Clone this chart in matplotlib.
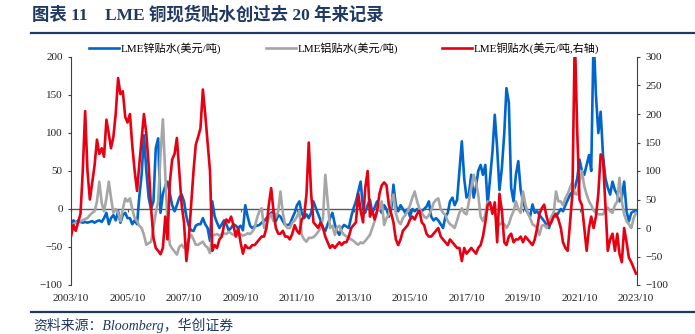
import matplotlib
matplotlib.use("Agg")
import matplotlib.pyplot as plt
from matplotlib.lines import Line2D
import pandas as pd

# ---------------- data (monthly, 2003/10 .. 2023/10) ----------------
start_month = "2003-10-01"

zinc = [
    -20, -15, -18, -15, -17, -18, -17, -18, -17, -16,
    -18, -16, -15, -17, -12, -5, -20, -12, -8, -15,
    -3, -18, -8, -5, -12, -12, -20, -15, -20, 15,
    45, 97, 50, 15, 0, 10, 80, 93, -5, 20,
    30, 36, 20, 5, -3, 5, 15, 19, 10, -10,
    -22, -28, -29, -22, -20, -20, -12, -20, -25, -42,
    10, -10, -18, -25, -20, -15, -20, -28, -25, -20,
    -22, -25, -22, -28, 5, -10, -22, -25, -23, -22,
    -21, -18, -16, -12, -9, -5, -3, -16, -8, -10,
    -16, -21, -21, -20, -12, -5, 5, 10, -5, -12,
    -7, -12, -5, 10, 1, -7, -15, -25, -29, -20,
    -12, -5, -20, -29, -34, -25, -21, -23, -25, -10,
    1, 10, 23, 36, 0, -5, 5, 12, -5, 2,
    10, 0, -5, 5, 0, -10, 0, 32, 5, -3,
    5, 0, -5, 0, -10, 0, -3, 0, -5, -3,
    0, 3, 10, -10, -15, -12, -15, -20, -25, -10,
    -5, 10, 15, 5, 12, 50, 89, 40, 15, 20,
    45, 15, 30, 50, 58, 45, 58, 5, 40, 75,
    124, 80, 25, 54, 100, 159, 140, 28, 10, 45,
    63, 25, 10, 0, -5, -10, 6, -5, -3, -8,
    -12, -16, -21, -25, -15, -5, -10, -5, 0, -3,
    5, 12, 19, 23, 28, 40, 65, 50, 45, 58,
    71, 50, 230, 150, 100, 128, 70, 40, 28, 19,
    36, 25, 19, 10, 15, 36, -3, -16, -5, -3, -3,
]

aluminium = [
    -25, -20, -18, -17, -16, -15, -13, -12, -8, -5,
    -3, 10, 36, 8, -3, 14, 36, 15, -5, 0,
    -5, -16, 0, 14, 10, 14, 0, -12, -16, -22,
    -25, -34, -47, -45, -43, -25, -5, 10, 71, 118,
    45, -16, -47, -52, -56, -60, -50, -47, -51, -47,
    -40, -34, -40, -47, -47, -45, -43, -48, -51, -58,
    -35, -34, -33, -35, -33, -32, -33, -30, -32, -34,
    -35, -34, -33, -35, -34, -32, -33, -30, -25, -12,
    -3, 1, -25, -21, -12, -7, -16, -10, -3, 23,
    -5, -21, -25, -25, -18, -15, -10, -3, -34, -40,
    -43, -38, -38, -37, -34, -30, -25, -12, 45, 10,
    -25, -22, -34, -25, -22, -30, -34, -36, -38, -40,
    -42, -45, -47, -44, -45, -42, -38, -34, -25, -16,
    -3, 0, 10, -21, -12, -7, 10, 19, -5, -16,
    -20, -12, -8, -3, 5, 15, 23, 10, 0, -5,
    -10, -12, -8, -2, 8, 12, 14, 0, -5, -8,
    -16, -20, -22, -25, -15, -5, 1, -5, -7, 10,
    28, 45, 35, 19, -10, -16, -7, 10, 5, 0,
    -3, -16, -21, -18, -20, -25, -20, -10, -3, 10,
    0, -5, 23, 6, -5, -12, -20, -22, -25, -34,
    -22, -21, -25, -18, -10, -5, 23, 10, 10, 5,
    14, 20, 28, 36, 20, 19, 36, 50, 30, 19,
    10, 5, -2, -5, -7, -7, -7, 0, 2, -3,
    -5, 5, 10, 41, 10, -7, -16, -20, -25, -12, -5,
]

copper = [
    -15, 5, -5, 10, 25, 100, 205, 100, 50, 80,
    110, 155, 130, 140, 125, 190, 165, 140, 160, 200,
    263, 235, 240, 195, 185, 200, 145, 100, 65, 110,
    155, 200, 165, 110, 35, -17, -35, -40, -46, -35,
    20, -20, 80, 120, 130, 158, 100, 40, 10, -58,
    -20, 40, 100, 146, 160, 175, 243, 200, 150, 100,
    -40, -30, -35, -20, -15, 5, 15, 10, 20, 5,
    -15, 0, -25, -45, -30, -35, -35, -30, -30, -25,
    -20, -15, -15, 0, 40, 70, 30, 0, -10, -10,
    -5, -15, -15, -20, -10, 5, -5, -10, 15, 20,
    60, 150, 60, 10, 5, 0, 10, 0, -15, -25,
    -35, -30, -35, -30, -25, -30, -25, -25, -15, 0,
    5, 10, 60, 30, 10, 70, 100, 20, 30, 15,
    30, 60, 75, 80, 75, 40, 25, 10, -20, -30,
    -20, -5, 0, 5, 15, 20, 15, 25, 30, 10,
    5, -10, -15, -15, -10, -5, 0, -15, -20, -25,
    -30, -20, -25, -30, -35, -35, -58, -35, -45, -40,
    -35, -40, -45, -35, -30, -15, 10, 40, 45, 25,
    45, -25, 60, 30, -25, -30, -15, -10, -25, -20,
    -20, -15, -25, -15, -20, -25, -30, -20, 0, 25,
    35, 41, 20, 5, 10, 20, 25, 15, 0, -25,
    -35, -40, 10, 60, 340, 170, 50, 40, 0, -40,
    0, 20, 0, 20, 60, 129, 120, 40, -40, -20,
    -10, -40, -10, -45, -60, 0, -25, -52, -60, -70, -80,
]

labels = ["LME锌贴水(美元/吨)", "LME铝贴水(美元/吨)", "LME铜贴水(美元/吨,右轴)"]
colors = ["#0066CC", "#A6A6A6", "#E60012"]
xtick_years = list(range(2003, 2024, 2))
left_ticks = list(range(-100, 201, 50))
right_ticks = list(range(-100, 301, 50))

title = "图表 11    LME 铜现货贴水创过去 20 年来记录"
source = "资料来源：Bloomberg，华创证券"

dates = pd.date_range(start_month, periods=len(copper), freq="MS")

# ---------------- figure ----------------
FAM = ["Liberation Serif", "Noto Sans CJK SC", "DejaVu Sans"]
plt.rcParams["font.family"] = FAM
navy = "#1F3864"
spine_c = "#404040"

W, H = 695, 334
fig = plt.figure(figsize=(W / 100, H / 100), dpi=100)
ax = fig.add_axes([71 / W, 1 - 285 / H, (637 - 71) / W, (285 - 57) / H])
ax2 = ax.twinx()

l1, = ax.plot(dates, zinc, color=colors[0], lw=1.9, label=labels[0])
l2, = ax.plot(dates, aluminium, color=colors[1], lw=1.9, label=labels[1])
l3, = ax2.plot(dates, copper, color=colors[2], lw=1.9, label=labels[2])

ax.set_ylim(-100, 200)
ax2.set_ylim(-100, 300)
ax.set_yticks(left_ticks)
ax2.set_yticks(right_ticks)
ax.set_xlim(dates[0], pd.Timestamp("2023-10-14"))

xt = [pd.Timestamp(f"{y}-10-01") for y in xtick_years]
ax.set_xticks(xt)
ax.set_xticklabels([f"{y}/10" for y in xtick_years])

for a in (ax, ax2):
    a.spines["top"].set_visible(False)
    a.spines["bottom"].set_visible(False)
    for s in ("left", "right"):
        a.spines[s].set_color(spine_c)
        a.spines[s].set_linewidth(0.8)
ax.spines["right"].set_visible(False)
ax2.spines["left"].set_visible(False)

ax.tick_params(axis="y", direction="out", length=2.5, width=0.8, color=spine_c,
               pad=3.5, labelsize=8, labelcolor="#222222")
ax2.tick_params(axis="y", direction="out", length=2.5, width=0.8, color=spine_c,
                pad=3.5, labelsize=8, labelcolor="#222222")
ax.tick_params(axis="x", length=0, pad=6.5, labelsize=8, labelcolor="#222222")

# zero line acting as x-axis with ticks
sec = ax.secondary_xaxis(1 / 3)
sec.set_xticks(xt)
sec.set_xticklabels([])
sec.spines["bottom"].set_color("#595959")
sec.spines["bottom"].set_linewidth(1.0)
sec.tick_params(axis="x", direction="out", length=2.5, width=0.8, color="#595959")

# legend
fig.legend(handles=[l1, l2, l3], loc="center left",
           bbox_to_anchor=(89 / W, 1 - 48 / H), ncol=3, frameon=False,
           fontsize=8, handlelength=2.7, handletextpad=0.15,
           columnspacing=4.0, borderpad=0, borderaxespad=0)

# title, rules and source
fig.text(32 / W, 1 - 15 / H, title, ha="left", va="center", fontsize=12.5,
         fontweight="bold", color=navy)
fig.add_artist(Line2D([31 / W, 1.0], [1 - 33 / H, 1 - 33 / H],
                      transform=fig.transFigure, color=navy, lw=1.6))
fig.add_artist(Line2D([31 / W, 1.0], [1 - 312 / H, 1 - 312 / H],
                      transform=fig.transFigure, color=navy, lw=1.6))
fig.text(33 / W, 1 - 325 / H, source, ha="left", va="center", fontsize=10,
         style="italic", color=navy)

fig.savefig("out.png", dpi=100)
